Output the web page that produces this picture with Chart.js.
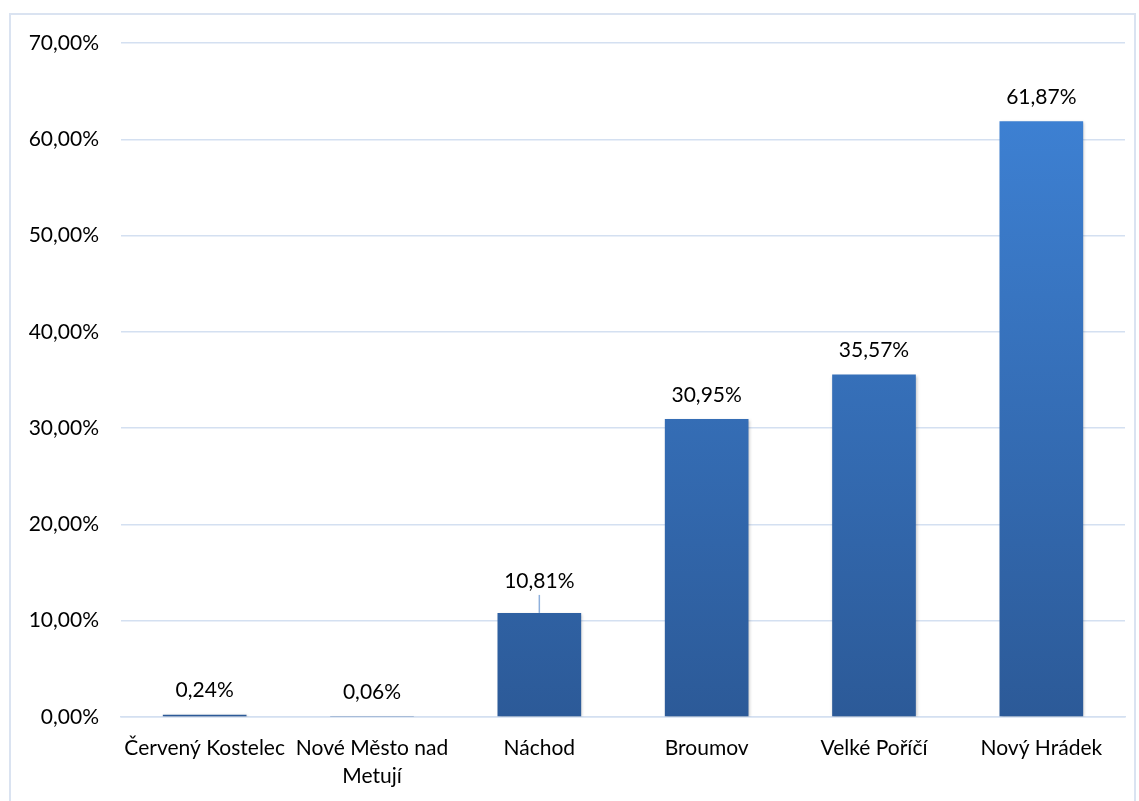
<!DOCTYPE html>
<html>
<head>
<meta charset="utf-8">
<script src="https://cdn.jsdelivr.net/npm/chart.js@4"></script>
<style>
  html, body { margin: 0; padding: 0; background: #fff; }
  #wrap { position: absolute; left: 0; top: 0; width: 1139px; height: 801px; }
  #frame { position: absolute; left: 9px; top: 13px; width: 1127px; height: 800px; border: 2px solid #dae3f1; box-sizing: border-box; }
</style>
</head>
<body>
<div id="frame"></div>
<div id="wrap"><canvas id="chart" width="1139" height="801"></canvas></div>
<script>
const categories = ["Červený Kostelec", ["Nové Město nad", "Metují"], "Náchod", "Broumov", "Velké Poříčí", "Nový Hrádek"];
const values = [0.24, 0.06, 10.81, 30.95, 35.57, 61.87];
const yTicks = [0, 10, 20, 30, 40, 50, 60, 70];

const fmt = v => v.toFixed(2).replace(".", ",") + "%";
const font = { family: "Lato", size: 21 };

const labelsPlugin = {
  id: "valueLabels",
  afterDatasetsDraw(chart) {
    const ctx = chart.ctx;
    const meta = chart.getDatasetMeta(0);
    ctx.save();
    ctx.font = "21px Lato";
    ctx.fillStyle = "#000";
    ctx.textAlign = "center";
    ctx.textBaseline = "middle";
    meta.data.forEach((bar, i) => {
      let y = bar.y - 24;
      if (i === 2) {
        y = bar.y - 32;
        ctx.strokeStyle = "#8fb0dc";
        ctx.lineWidth = 1.5;
        ctx.beginPath();
        ctx.moveTo(bar.x, y + 14);
        ctx.lineTo(bar.x, bar.y);
        ctx.stroke();
      }
      ctx.fillText(fmt(values[i]), bar.x, y);
    });
    ctx.restore();
  }
};

// gradient per bar (light top -> darker bottom) plus a soft shadow
const barStylePlugin = {
  id: "barStyle",
  beforeDatasetsDraw(chart) {
    const ctx = chart.ctx;
    chart.getDatasetMeta(0).data.forEach(bar => {
      const g = ctx.createLinearGradient(0, bar.y, 0, bar.base);
      g.addColorStop(0, "#3d80d2");
      g.addColorStop(1, "#2c5a98");
      bar.options.backgroundColor = g;
    });
    ctx.save();
    ctx.shadowColor = "rgba(0,0,0,0.25)";
    ctx.shadowBlur = 3;
    ctx.shadowOffsetX = 1;
    ctx.shadowOffsetY = 1;
  },
  afterDatasetsDraw(chart) {
    chart.ctx.restore();
  }
};

new Chart(document.getElementById("chart").getContext("2d"), {
  type: "bar",
  data: {
    labels: categories,
    datasets: [{
      data: values,
      backgroundColor: "#3a75c4",
      borderWidth: 0,
      categoryPercentage: 1,
      barPercentage: 0.5
    }]
  },
  options: {
    responsive: false,
    animation: false,
    layout: { padding: { left: 0, top: 43, right: 14, bottom: 0 } },
    plugins: { legend: { display: false }, tooltip: { enabled: false } },
    scales: {
      x: {
        grid: { display: false },
        border: { display: true, color: "#d4e0f1", width: 1.5 },
        ticks: { color: "#000", font: { family: "Lato", size: 21, lineHeight: 1.3 }, padding: 10, maxRotation: 0, autoSkip: false },
        afterFit(scale) { scale.height = 84; }
      },
      y: {
        min: 0,
        max: 70,
        afterBuildTicks(scale) { scale.ticks = yTicks.map(v => ({ value: v })); },
        grid: { color: "#d4e0f1", lineWidth: 1.5, drawTicks: false },
        border: { display: false },
        ticks: { color: "#000", font: font, padding: 22, callback: v => fmt(v) },
        afterFit(scale) { scale.width = 121; }
      }
    }
  },
  plugins: [barStylePlugin, labelsPlugin]
});
</script>
</body>
</html>
